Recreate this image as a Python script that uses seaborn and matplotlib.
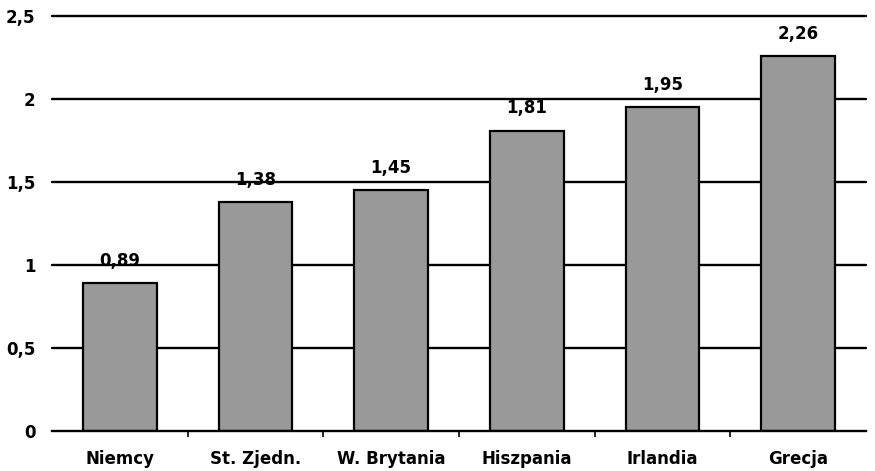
import matplotlib
matplotlib.use("Agg")
import matplotlib.pyplot as plt
import seaborn as sns
import pandas as pd
import numpy as np

countries = ["Niemcy", "St. Zjedn.", "W. Brytania", "Hiszpania", "Irlandia", "Grecja"]
values = [0.89, 1.38, 1.45, 1.81, 1.95, 2.26]
y_ticks = [0, 0.5, 1, 1.5, 2, 2.5]
y_tick_labels = ["0", "0,5", "1", "1,5", "2", "2,5"]

sns.set_theme(style="white")
plt.rcParams["font.family"] = ["DejaVu Sans"]
plt.rcParams["font.weight"] = "bold"
plt.rcParams["text.color"] = "black"
plt.rcParams["xtick.color"] = "black"
plt.rcParams["ytick.color"] = "black"

df = pd.DataFrame({"kraj": countries, "wartosc": values})

fig = plt.figure(figsize=(8.75, 4.71), dpi=100)
ax = fig.add_axes([0.0594, 0.0849, 0.9303, 0.8811])

sns.barplot(data=df, x="kraj", y="wartosc", color="#999999", saturation=1,
            width=0.545, edgecolor="black", linewidth=1.6, ax=ax, zorder=3)

ax.set_ylim(0, 2.5)
ax.set_xlim(-0.5, len(countries) - 0.5)
ax.set_yticks(y_ticks)
ax.set_yticklabels(y_tick_labels, fontsize=12, fontweight="bold", color="black")
ax.set_xticks(range(len(countries)))
ax.set_xticklabels(countries, fontsize=12, fontweight="bold", color="black")
ax.set_xticks(np.arange(0.5, len(countries) - 0.5, 1.0), minor=True)
ax.tick_params(axis="x", which="major", length=0, pad=14)
ax.tick_params(axis="x", which="minor", length=4, width=1.2, color="black", direction="out", bottom=True)
ax.tick_params(axis="y", length=0, pad=12)
ax.set_xlabel("")
ax.set_ylabel("")

for yv in y_ticks[1:]:
    ax.axhline(yv, color="black", linewidth=1.7, zorder=1, clip_on=False)

for s in ["top", "right", "left"]:
    ax.spines[s].set_visible(False)
ax.spines["bottom"].set_color("black")
ax.spines["bottom"].set_linewidth(1.7)
ax.spines["bottom"].set_zorder(4)

for i, v in enumerate(values):
    ax.annotate(f"{v:.2f}".replace(".", ","), (i, v), xytext=(0, 9.5),
                textcoords="offset points", ha="center", va="bottom",
                fontsize=12, fontweight="bold", color="black", zorder=5)

fig.savefig("out.png", dpi=100)
